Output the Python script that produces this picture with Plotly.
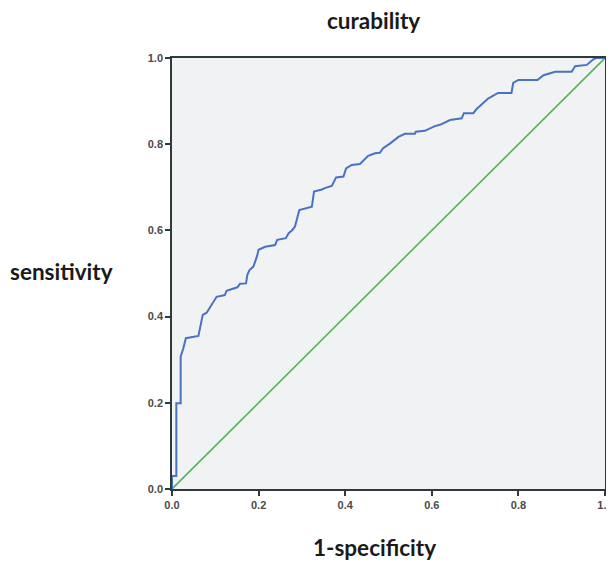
import plotly.graph_objects as go

# ROC curve points (1-specificity, sensitivity)
fpr = [0.0, 0.0, 0.01, 0.01, 0.02, 0.02, 0.026, 0.032, 0.061, 0.066, 0.071, 0.080, 0.086,
       0.095, 0.103, 0.122, 0.126, 0.151, 0.157, 0.171, 0.174, 0.179, 0.188, 0.196, 0.200,
       0.215, 0.238, 0.243, 0.263, 0.269, 0.278, 0.284, 0.294, 0.323, 0.328, 0.346, 0.353,
       0.369, 0.379, 0.396, 0.402, 0.415, 0.434, 0.453, 0.469, 0.480, 0.487, 0.504, 0.523,
       0.538, 0.561, 0.563, 0.584, 0.607, 0.619, 0.642, 0.669, 0.674, 0.696, 0.703, 0.730,
       0.753, 0.784, 0.788, 0.800, 0.844, 0.858, 0.885, 0.923, 0.931, 0.958, 0.973, 0.980, 1.0]
tpr = [0.0, 0.03, 0.03, 0.199, 0.199, 0.307, 0.326, 0.350, 0.355, 0.380, 0.404, 0.409, 0.419,
       0.435, 0.446, 0.450, 0.460, 0.468, 0.476, 0.477, 0.497, 0.508, 0.516, 0.539, 0.555,
       0.562, 0.566, 0.578, 0.582, 0.593, 0.601, 0.609, 0.647, 0.655, 0.690, 0.695, 0.698,
       0.703, 0.723, 0.725, 0.744, 0.752, 0.754, 0.773, 0.779, 0.780, 0.790, 0.802, 0.817,
       0.824, 0.824, 0.829, 0.831, 0.842, 0.845, 0.856, 0.860, 0.872, 0.872, 0.881, 0.906,
       0.919, 0.919, 0.942, 0.949, 0.949, 0.960, 0.968, 0.968, 0.981, 0.984, 0.997, 1.0, 1.0]

ref_x = [0.0, 1.0]
ref_y = [0.0, 1.0]

tick_vals = [0.0, 0.2, 0.4, 0.6, 0.8, 1.0]
tick_text = ["0.0", "0.2", "0.4", "0.6", "0.8", "1.0"]

title_text = "curability"
x_title = "1-specificity"
y_title = "sensitivity"

fig = go.Figure()
fig.add_trace(go.Scatter(x=ref_x, y=ref_y, mode="lines",
                         line=dict(color="#4cb84f", width=1.6), showlegend=False))
fig.add_trace(go.Scatter(x=fpr, y=tpr, mode="lines",
                         line=dict(color="#4a72c2", width=2), showlegend=False))

axis_common = dict(
    range=[0, 1], tickvals=tick_vals, ticktext=tick_text,
    showgrid=False, zeroline=False, showline=True, mirror=True,
    linecolor="#2f3b3b", linewidth=1.5,
    ticks="outside", ticklen=5, tickcolor="#2f3b3b", tickwidth=1.5,
    tickfont=dict(family="Liberation Sans, Arial", size=11, color="#4a4a4a", weight="bold"),
    automargin=False, ticklabeloverflow="allow",
)

# page is drawn with an 8px body offset; keep the figure inside the 614x564 window
OFF = 8
W, H = 614 - OFF, 564 - OFF
L, R, T, B = 172 - OFF, W - (605 - OFF), 58 - OFF, H - (489 - OFF)

fig.update_layout(
    width=W, height=H,
    margin=dict(l=L, r=R, t=T, b=B),
    paper_bgcolor="white", plot_bgcolor="#f1f2f4",
    xaxis=dict(**axis_common),
    yaxis=dict(**axis_common),
    font=dict(family="Lato, Open Sans, sans-serif"),
)

pw, ph = W - L - R, H - T - B
def px(xp): return (xp - OFF - L) / pw
def py(yp): return (H - B - (yp - OFF)) / ph

tfont = dict(size=22.5, color="#1a1a1a")
for txt, xx, yy in [(title_text, 373, 21), (x_title, 374, 547), (y_title, 61, 271)]:
    fig.add_annotation(text=f"<b>{txt}</b>", x=px(xx), y=py(yy), xref="paper", yref="paper",
                       xanchor="center", yanchor="middle", showarrow=False, font=tfont)

fig.write_html("out.html")
